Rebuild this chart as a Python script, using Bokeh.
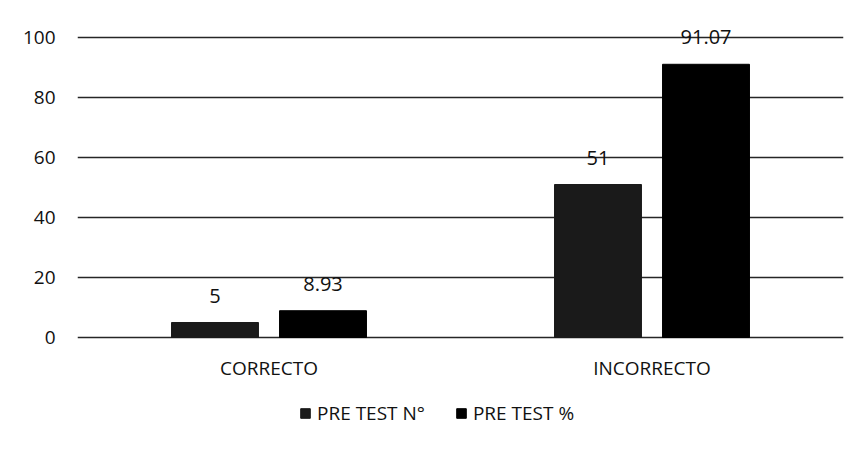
from bokeh.plotting import figure
from bokeh.models import ColumnDataSource, Legend, LegendItem, FactorRange, Range1d
from bokeh.transform import dodge
from bokeh.core.properties import value
from bokeh.embed import file_html
from bokeh.resources import INLINE

categories = ["CORRECTO", "INCORRECTO"]
pre_n = [5, 51]
pre_pct = [8.93, 91.07]
series_names = ["PRE TEST N°", "PRE TEST %"]
y_ticks = [0, 20, 40, 60, 80, 100]

src = ColumnDataSource(dict(
    cat=categories,
    n=pre_n,
    pct=pre_pct,
    n_lbl=[f"{v:g}" for v in pre_n],
    pct_lbl=[f"{v:.2f}" for v in pre_pct],
))

FONT = "Open Sans"
CAT_LABEL_Y = -10   # below the baseline, where the category names sit

p = figure(x_range=FactorRange(*categories), y_range=Range1d(-31, 108),
           width=850, height=435, output_backend="svg", toolbar_location=None,
           min_border_left=77, min_border_right=7, min_border_top=13, min_border_bottom=5,
           border_fill_color="white")

r1 = p.vbar(x=dodge("cat", -0.141, range=p.x_range), top="n", width=0.227,
            source=src, fill_color="#1a1a1a", line_color="#1a1a1a")
r2 = p.vbar(x=dodge("cat", 0.141, range=p.x_range), top="pct", width=0.227,
            source=src, fill_color="#000000", line_color="#000000")

lbl_style = dict(text_font=value(FONT), text_font_size="20px", text_color="#111111",
                 text_align="center", text_baseline="bottom", y_offset=-20)
p.text(x=dodge("cat", -0.141, range=p.x_range), y="n", text="n_lbl", source=src, **lbl_style)
p.text(x=dodge("cat", 0.141, range=p.x_range), y="pct", text="pct_lbl", source=src, **lbl_style)

# category names
p.text(x="cat", y=CAT_LABEL_Y, text="cat", source=src,
       text_font=value(FONT), text_font_size="19px", text_color="#111111",
       text_align="center", text_baseline="middle")

p.yaxis.ticker = y_ticks
p.ygrid.ticker = y_ticks
p.xgrid.grid_line_color = None
p.ygrid.grid_line_color = "#262626"
p.ygrid.grid_line_width = 1.3
p.yaxis.axis_line_color = None
p.yaxis.major_tick_line_color = None
p.yaxis.minor_tick_line_color = None
p.yaxis.major_label_text_font = FONT
p.yaxis.major_label_text_font_size = "19px"
p.yaxis.major_label_text_color = "#111111"
p.yaxis.major_label_standoff = 16
p.xaxis.visible = False
p.outline_line_color = None

legend = Legend(items=[LegendItem(label=series_names[0], renderers=[r1]),
                       LegendItem(label=series_names[1], renderers=[r2])],
                orientation="horizontal", location=(222, 4),
                label_text_font=FONT, label_text_font_size="19px", label_text_color="#111111",
                glyph_width=12, glyph_height=12, spacing=30, label_standoff=6,
                border_line_color=None, background_fill_alpha=0, margin=0, padding=4)
p.add_layout(legend)

open("out.html", "w").write(file_html(p, INLINE))
